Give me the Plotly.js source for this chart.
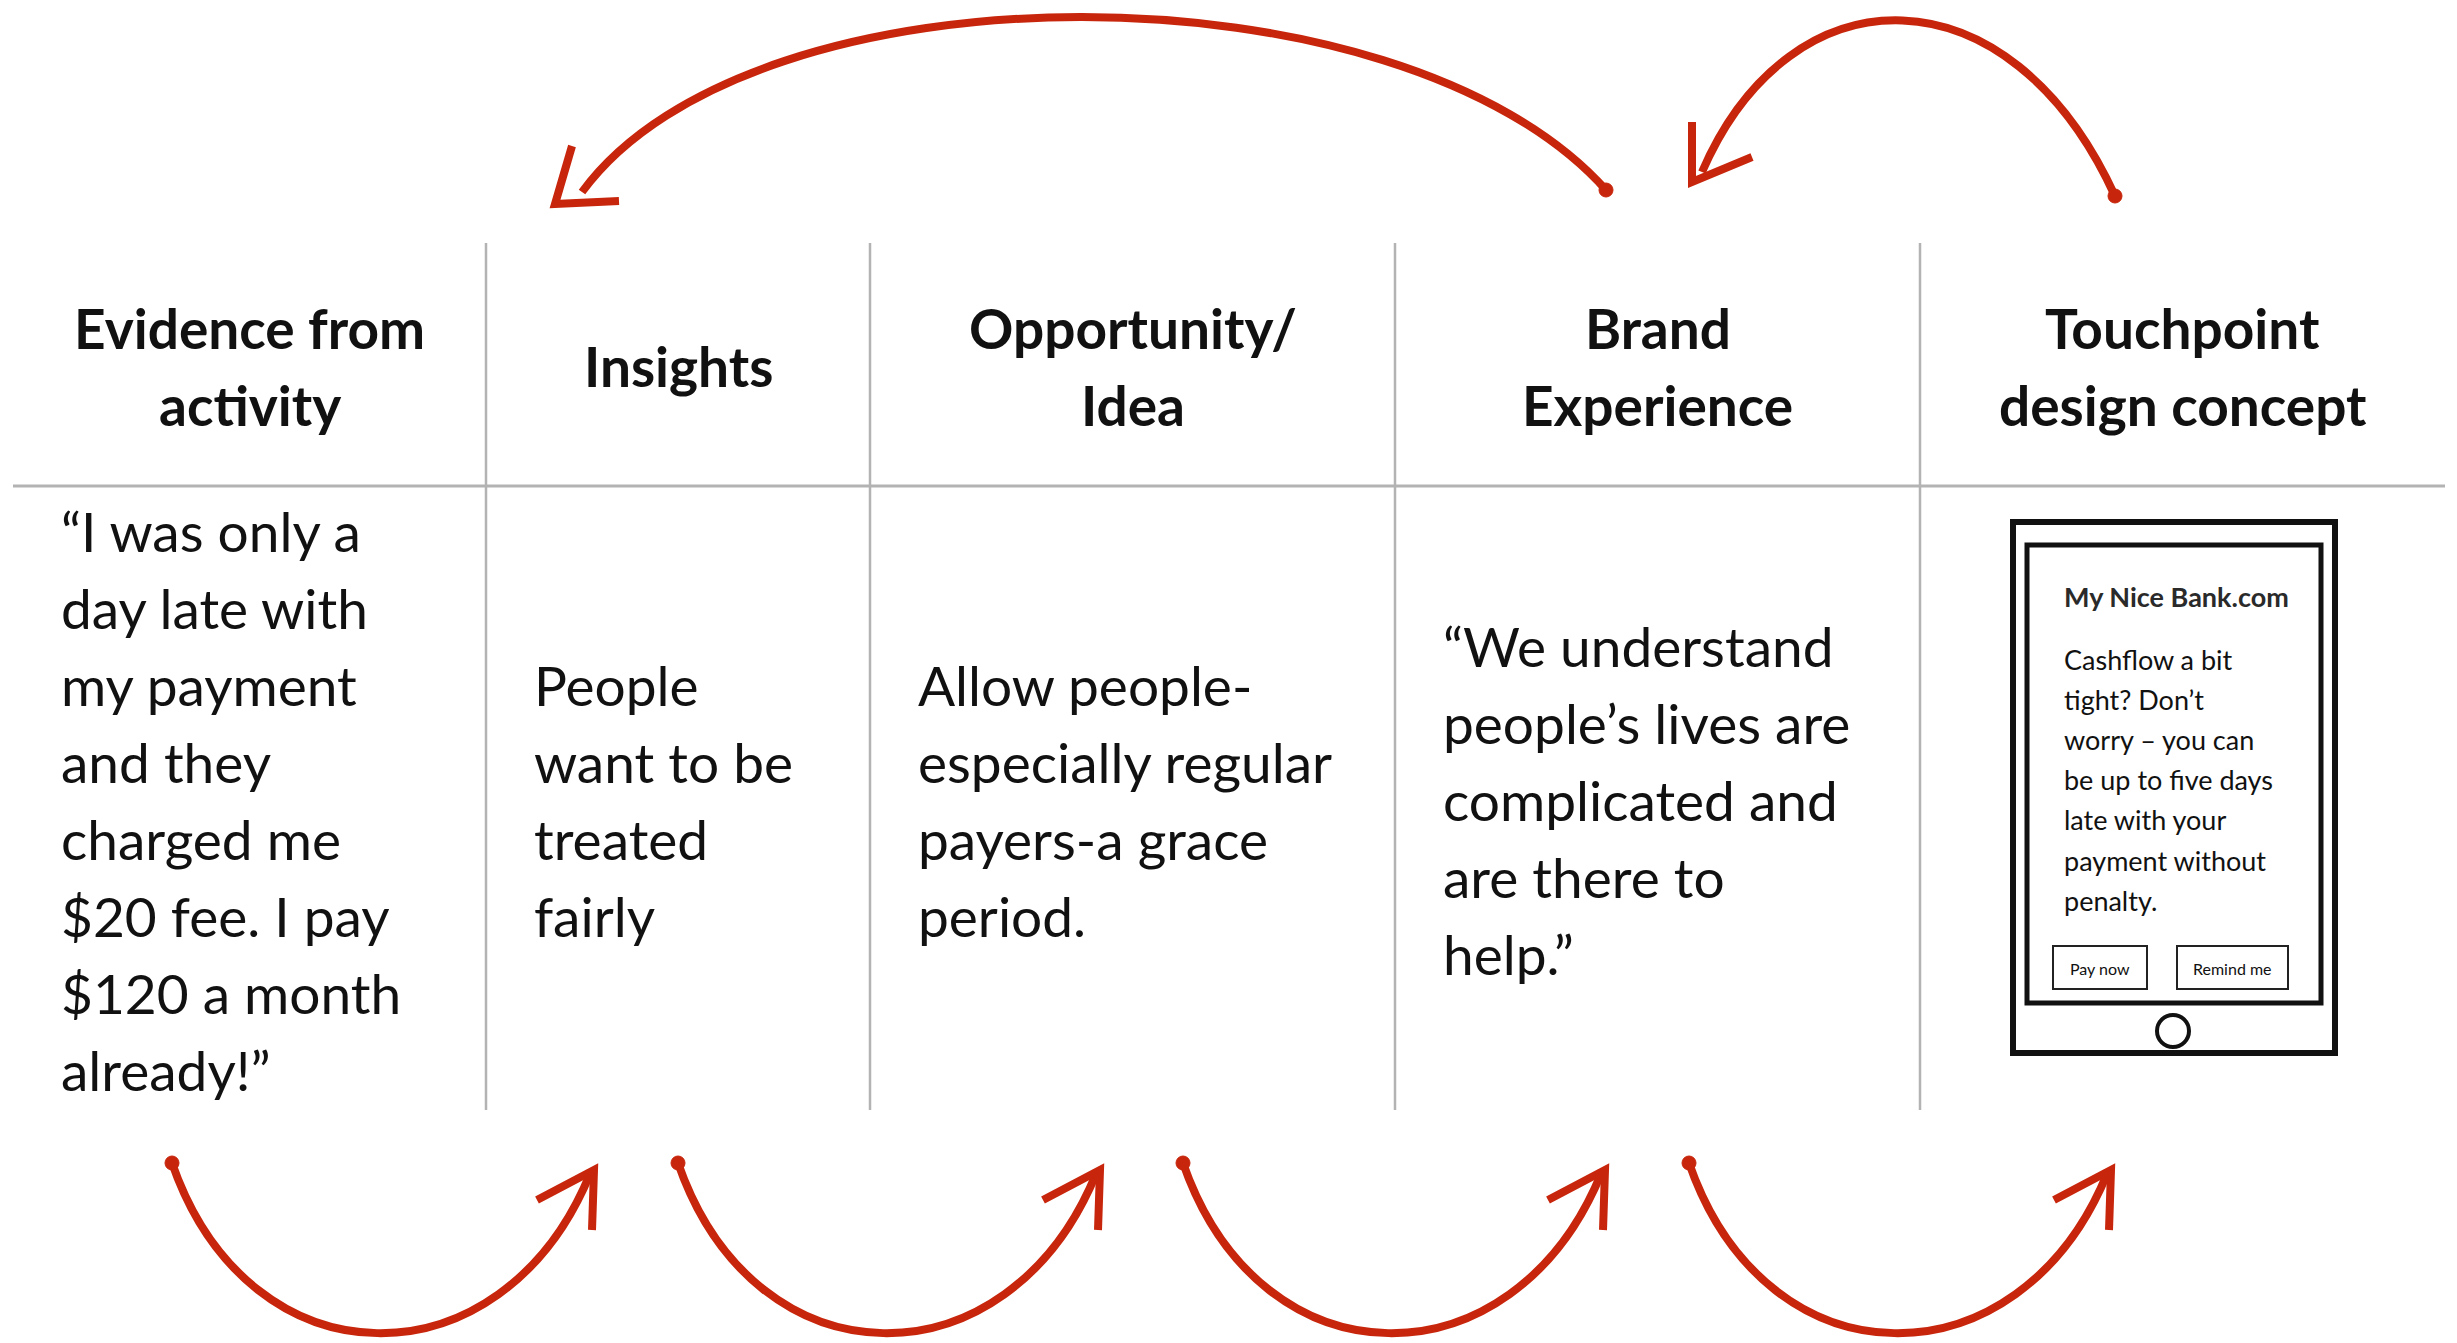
<!DOCTYPE html>
<html><head><meta charset="utf-8">
<script src="https://cdn.plot.ly/plotly-3.0.1.min.js"></script>
<style>html,body{margin:0;padding:0;background:#fff;overflow:hidden}#chart{width:2457px;height:1343px}</style>
</head><body><div id="chart"></div>
<script>
// ---- content ----
const headers = [["Evidence from","activity"],["Insights"],["Opportunity/","Idea"],["Brand","Experience"],["Touchpoint","design concept"]];
const col1Body = ["“I was only a","day late with","my payment","and they","charged me","$20 fee. I pay","$120 a month","already!”"];
const col2Body = ["People","want to be","treated","fairly"];
const col3Body = ["Allow people-","especially regular","payers-a grace","period."];
const col4Body = ["“We understand","people’s lives are","complicated and","are there to","help.”"];
const bodies = [col1Body, col2Body, col3Body, col4Body];
const phoneTitle = "My Nice Bank.com";
const phoneLines = ["Cashflow a bit","tight? Don’t","worry – you can","be up to five days","late with your","payment without","penalty."];
const buttonLabels = ["Pay now","Remind me"];

// ---- geometry ----
const W = 2457, H = 1343;
const colEdges = [13, 486, 870, 1395, 1920, 2445];
const RED = '#c8260c';
const FONT = 'Lato, "Noto Sans", sans-serif';

const shapes = [];
const ann = [];

// grid lines
shapes.push({type:'line', xref:'x', yref:'y', x0:colEdges[0], x1:colEdges[5], y0:486, y1:486, line:{color:'#b3b3b3', width:3}});
for (let i=1;i<5;i++) shapes.push({type:'line', xref:'x', yref:'y', x0:colEdges[i], x1:colEdges[i], y0:243, y1:1110, line:{color:'#b3b3b3', width:2.5}});

// headers
headers.forEach((h,c)=>{
  const cx = (colEdges[c]+colEdges[c+1])/2;
  h.forEach((t,i)=>{
    ann.push({xref:'x', yref:'y', x:cx, y:366+(i-(h.length-1)/2)*77, text:'<b>'+t+'</b>', showarrow:false,
      xanchor:'center', yanchor:'middle', font:{family:FONT, size:55, color:'#111'}});
  });
});

// bodies
bodies.forEach((b,c)=>{
  const x0 = colEdges[c]+46;
  b.forEach((t,i)=>{
    ann.push({xref:'x', yref:'y', x:x0, y:800+(i-(b.length-1)/2)*77, text:t, showarrow:false,
      xanchor:'left', yanchor:'middle', font:{family:FONT, size:55, color:'#111'}});
  });
});

// phone
shapes.push({type:'rect', xref:'x', yref:'y', x0:2013, x1:2335, y0:522, y1:1053, line:{color:'#111', width:6}});
shapes.push({type:'rect', xref:'x', yref:'y', x0:2027, x1:2321, y0:545, y1:1003, line:{color:'#111', width:5}});
shapes.push({type:'circle', xref:'x', yref:'y', x0:2157, x1:2189, y0:1015, y1:1047, line:{color:'#111', width:4}});
ann.push({xref:'x', yref:'y', x:2062, y:596, text:'<b>'+phoneTitle+'</b>', showarrow:false, xanchor:'left', yanchor:'middle',
  font:{family:FONT, size:27, color:'#2a2a2a'}});
phoneLines.forEach((t,i)=>{
  ann.push({xref:'x', yref:'y', x:2062, y:659+i*40.2, text:t, showarrow:false, xanchor:'left', yanchor:'middle',
    font:{family:FONT, size:27, color:'#111'}});
});
const btnBoxes = [[2053,2147],[2177,2288]];
buttonLabels.forEach((t,i)=>{
  const [a,b] = btnBoxes[i];
  shapes.push({type:'rect', xref:'x', yref:'y', x0:a, x1:b, y0:946, y1:989, line:{color:'#222', width:2}});
  ann.push({xref:'x', yref:'y', x:(a+b)/2, y:968, text:t, showarrow:false, xanchor:'center', yanchor:'middle',
    font:{family:FONT, size:16, color:'#111'}});
});

// arrows
function curve(p){ return 'M'+p[0]+','+p[1]+' C'+p[2]+','+p[3]+' '+p[4]+','+p[5]+' '+p[6]+','+p[7]; }
function head(a,tip,b){ return 'M'+a[0]+','+a[1]+' L'+tip[0]+','+tip[1]+' L'+b[0]+','+b[1]; }
function addArrow(c, h){
  shapes.push({type:'path', xref:'x', yref:'y', path:curve(c), line:{color:RED, width:8}});
  shapes.push({type:'path', xref:'x', yref:'y', path:head(h[0],h[1],h[2]), line:{color:RED, width:8}});
  shapes.push({type:'circle', xref:'x', yref:'y', x0:c[0]-7, x1:c[0]+7, y0:c[1]-7, y1:c[1]+7,
    fillcolor:RED, line:{color:RED, width:1}});
}
// top arrows
addArrow([1606,190, 1400,-41, 752,-41, 582,192], [[572,146],[555,204],[619,201]]);
addArrow([2115,196, 2010,-34, 1791,-34, 1702,172], [[1692,122],[1692,182],[1752,157]]);
// bottom arrows
const bottomShift = [0, 506, 1011, 1517];
bottomShift.forEach(d=>{
  addArrow([172+d,1163, 250+d,1388, 502+d,1388, 590+d,1174],
           [[592+d,1230],[594+d,1170],[537+d,1200]]);
});

const layout = {
  width:W, height:H, margin:{l:0,r:0,t:0,b:0},
  paper_bgcolor:'#fff', plot_bgcolor:'#fff',
  xaxis:{range:[0,W], visible:false, fixedrange:true},
  yaxis:{range:[H,0], visible:false, fixedrange:true},
  shapes:shapes, annotations:ann, showlegend:false
};
Plotly.newPlot('chart', [{x:[],y:[],type:'scatter'}], layout, {staticPlot:true});
</script></body></html>
